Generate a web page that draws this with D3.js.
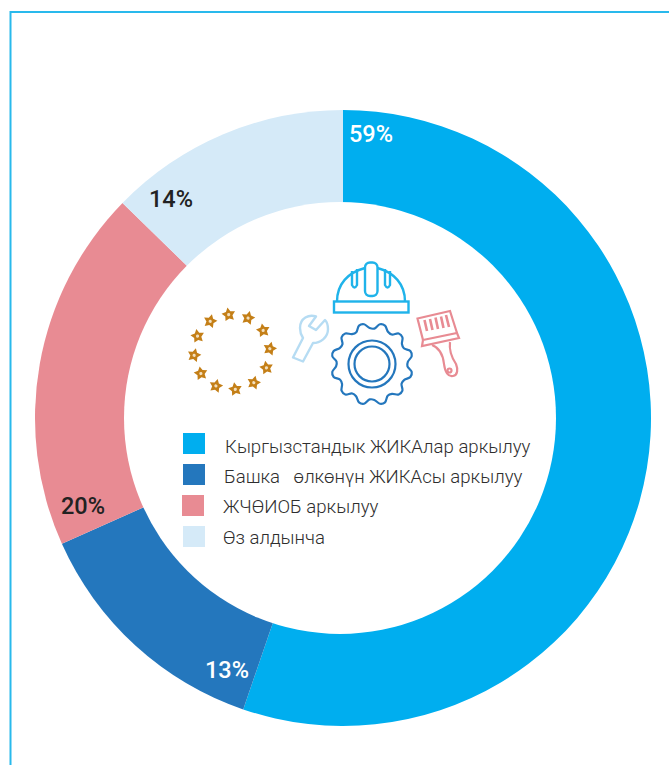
<!DOCTYPE html>
<html>
<head>
<meta charset="utf-8">
<script src="https://cdnjs.cloudflare.com/ajax/libs/d3/7.6.1/d3.min.js"></script>
<style>
  html, body { margin: 0; padding: 0; background: #fff; }
  svg { display: block; font-family: Roboto, sans-serif; }
</style>
</head>
<body>
<div id="chart"></div>
<script>
var categories = [
  "Кыргызстандык ЖИКАлар аркылуу",
  "Башка   өлкөнүн ЖИКАсы аркылуу",
  "ЖЧӨИОБ аркылуу",
  "Өз алдынча"
]
// printed labels add up to 106, the slices are drawn from the measured shares
var labels = [59, 13, 20, 14]
var shares = [55.25, 13.05, 19.0, 12.7]
var colors = ["#00aeef", "#2477bd", "#e88b93", "#d5eaf8"]

var width = 669,
  height = 765,
  cx = 343,
  cy = 418,
  outer = 308,
  inner = 216

const svg = d3.select("#chart").append("svg")
  .attr("width", width)
  .attr("height", height)

// frame, open on the right and at the bottom
svg.append("path")
  .attr("d", "M10.5,765V12H669")
  .attr("fill", "none")
  .attr("stroke", "#29b9ec")
  .attr("stroke-width", 2)

const pie = d3.pie().sort(null).value(d => d)
const arc = d3.arc().innerRadius(0).outerRadius(outer)

const g = svg.append("g").attr("transform", `translate(${cx},${cy})`)

g.selectAll("path")
  .data(pie(shares))
  .join("path")
    .attr("fill", (d, i) => colors[i])
    .attr("d", arc)

// hole sits a little left of the ring centre
g.append("circle")
  .attr("cx", -3)
  .attr("r", inner)
  .attr("fill", "#fff")

// labels sit at the slice ends, not the middle
var labelAt = [[371, 134, "#fff"], [227, 670, "#fff"], [83, 506, "#222"], [171, 199, "#222"]]
svg.selectAll("text.pct")
  .data(labels)
  .join("text")
    .attr("class", "pct")
    .attr("x", (d, i) => labelAt[i][0])
    .attr("y", (d, i) => labelAt[i][1])
    .attr("dy", "0.35em")
    .attr("text-anchor", "middle")
    .attr("font-size", 23.5)
    .attr("font-weight", 500)
    .attr("fill", (d, i) => labelAt[i][2])
    .text(d => d + "%")

// legend
var legendY = d3.scaleBand().domain(d3.range(4)).range([428, 552])
var swatchX = [183, 183, 182, 183]
var textX = [225, 224, 223, 223]
var baseline = [453, 483, 513, 544]
const legend = svg.append("g")
legend.selectAll("rect")
  .data(categories)
  .join("rect")
    .attr("x", (d, i) => swatchX[i])
    .attr("y", (d, i) => legendY(i) + 5)
    .attr("width", 22)
    .attr("height", 21)
    .attr("fill", (d, i) => colors[i])
legend.selectAll("text")
  .data(categories)
  .join("text")
    .attr("x", (d, i) => textX[i])
    .attr("y", (d, i) => baseline[i])
    .attr("font-size", 18.6)
    .attr("font-weight", 300)
    .attr("fill", "#2e2e2e")
    .style("white-space", "pre")
    .text(d => d)

// ring of stars, fatter than d3.symbolStar
const starLine = d3.lineRadial().curve(d3.curveLinearClosed)
  .angle((d, i) => i * Math.PI / 5)
  .radius((d, i) => i % 2 ? 3.8 : 7.2)
const stars = svg.append("g")
stars.selectAll("g")
  .data(d3.range(12))
  .join("g")
    .attr("transform", d => {
      const a = (d * 30 - 5) * Math.PI / 180
      return `translate(${232 + 38 * Math.sin(a)},${352 - 37.5 * Math.cos(a)}) rotate(${d % 2 ? 14 : -10})`
    })
    .call(s => s.append("path").attr("d", starLine(d3.range(10))).attr("fill", "#c47f17"))
    .call(s => s.append("circle").attr("r", 1.6).attr("fill", "#f3dfbd"))

// hard hat
const hat = svg.append("g").attr("fill", "none").attr("stroke", "#1fb3ea").attr("stroke-width", 2.4)
hat.append("rect").attr("x", 334).attr("y", 301.5).attr("width", 74.5).attr("height", 11)
hat.append("path").attr("d", "M337,301.5C337,284 348,272.5 365,268M377.5,268C394,272.5 405,284 405,301.5")
hat.append("rect").attr("x", 365).attr("y", 262.5).attr("width", 12.5).attr("height", 33.5).attr("rx", 5)
hat.append("path").attr("d", "M352,271V285Q354.5,290 357,285V269")
hat.append("path").attr("d", "M385,269V285Q387.5,290 390,285V271")

// gear, radius alternates tooth and valley
var toothR = [40.5, 40.5, 36, 35.5]
const gearLine = d3.lineRadial().curve(d3.curveCatmullRomClosed.alpha(0.5))
  .angle((d, i) => i * Math.PI / 24)
  .radius((d, i) => toothR[i % 4])
const gear = svg.append("g")
  .attr("transform", "translate(372,364)")
  .attr("fill", "none").attr("stroke", "#2477bd").attr("stroke-width", 2.2)
gear.append("path").attr("d", gearLine(d3.range(48))).attr("transform", "rotate(-18.75)")
gear.append("circle").attr("r", 23.5)
gear.append("circle").attr("r", 17.5)

// wrench
svg.append("path")
  .attr("d", "M293,357.5L303,361.5L313,343C320,343 328,338 328,329C328,326 327,322 325,320L316,330L309,326L316,316.5C309,314 300,318 300,328C300,332 301,335 303,338Z")
  .attr("fill", "none")
  .attr("stroke", "#b6dcf3")
  .attr("stroke-width", 2.4)
  .attr("stroke-linejoin", "round")

// brush
const brush = svg.append("g").attr("fill", "none").attr("stroke", "#e88b93").attr("stroke-width", 2.2)
brush.append("path").attr("d", "M423,340L417.5,318.5L450,311L457,333")
brush.append("path").attr("d", "M423,340L457,333L459,338L422,346Z")
brush.append("path").attr("d", "M427,331L424.5,320M432.5,330L430,319M438,329L435.5,317.5M443.5,328L441,316.5M449,327L446,315")
  .attr("stroke-width", 2.6)
brush.append("path").attr("d", "M432,345C440,348 443,355 444,364C445,372 448,377 453,376C458,375 458,369 456,364C452,358 449,350 450,342")
brush.append("circle").attr("cx", 449.5).attr("cy", 370.5).attr("r", 2)
</script>
</body>
</html>
